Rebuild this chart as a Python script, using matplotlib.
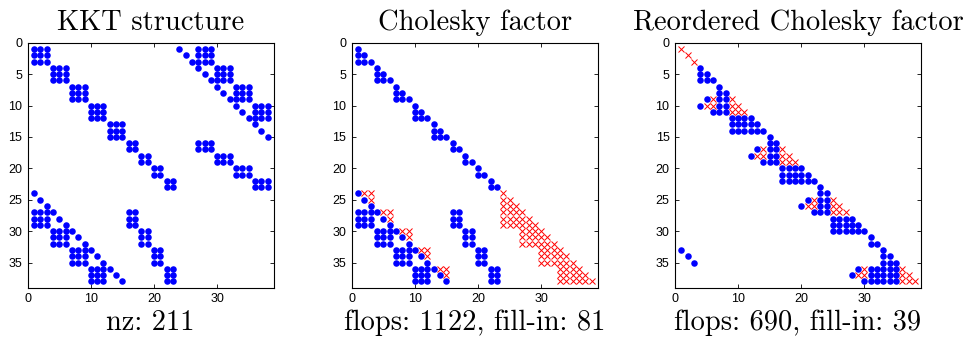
import numpy as np
import matplotlib
matplotlib.use("Agg")
import matplotlib.pyplot as plt

# block index sets of the KKT system (1-based)
state_idx = [[1, 2, 3], [4, 5, 6], [7, 8, 9], [10, 11, 12], [13, 14, 15]]
ctrl_idx = [[16, 17], [18, 19], [20, 21], [22, 23]]
con_idx = [[24, 25, 26], [27, 28, 29], [30, 31, 32], [33, 34, 35], [36, 37, 38]]

# ordering used for the third panel
perm = [24, 25, 26, 13, 14, 15, 22, 23, 37, 36, 38, 10, 11, 12, 20, 21,
        34, 33, 35, 7, 8, 9, 18, 19, 31, 30, 32, 4, 5, 6, 16, 17,
        1, 2, 3, 28, 27, 29]

titles = ["KKT structure", "Cholesky factor", "Reordered Cholesky factor"]
labels = ["nz: 211", "flops: 1122, fill-in: 81", "flops: 690, fill-in: 39"]

n = 38
K = np.zeros((n, n), dtype=bool)
def setblk(rows, cols):
    for r in rows:
        for c in cols:
            K[r-1, c-1] = True
            K[c-1, r-1] = True

for s in state_idx:
    setblk(s, s)
for u in ctrl_idx:
    setblk(u, u)
# initial condition rows only touch x1
for k in range(3):
    setblk([con_idx[0][k]], [state_idx[0][k]])
for t in range(1, 5):
    for k in range(3):
        setblk([con_idx[t][k]], [state_idx[t][k]])   # identity on next state
    setblk(con_idx[t], state_idx[t-1])                # A block
    setblk(con_idx[t], ctrl_idx[t-1])                 # B block


def symb_chol(A):
    L = np.tril(A).copy()
    np.fill_diagonal(L, True)
    m = A.shape[0]
    for j in range(m):
        rows = np.where(L[j+1:, j])[0] + j + 1
        for a in rows:
            L[a, rows[rows < a]] = True
    return L


L1 = symb_chol(K)
p = np.array(perm) - 1
Kp = K[np.ix_(p, p)]
L2 = symb_chol(Kp)

fig = plt.figure(figsize=(9.71, 3.37), dpi=100)
lefts = [27.7, 351.7, 675.0]
W, H = 971.0, 337.0

def style(ax):
    ax.set_xlim(0, 39)
    ax.set_ylim(39, 0)
    ax.set_xticks([0, 10, 20, 30])
    ax.set_yticks([0, 5, 10, 15, 20, 25, 30, 35])
    ax.tick_params(direction="in", top=True, right=True, length=3,
                   width=0.6, labelsize=9, pad=4)
    for lab in ax.get_xticklabels() + ax.get_yticklabels():
        lab.set_fontfamily("Liberation Sans")
    for sp in ax.spines.values():
        sp.set_linewidth(0.8)

axes = []
for i in range(3):
    ax = fig.add_axes([lefts[i] / W, 1 - 287.7 / H, 246.3 / W, 245.0 / H])
    style(ax)
    axes.append(ax)

dot = dict(ls="none", marker="o", ms=4.7, mfc="#0000ff", mec="none")
cross = dict(ls="none", marker="x", ms=4.6, mew=0.7, color="#ff0000")

r, c = np.nonzero(K)
axes[0].plot(c + 1, r + 1, **dot)

for ax, A, L in [(axes[1], K, L1), (axes[2], Kp, L2)]:
    orig = np.tril(A)
    fill = L & ~orig
    r, c = np.nonzero(orig)
    ax.plot(c + 1, r + 1, **dot)
    r, c = np.nonzero(fill)
    ax.plot(c + 1, r + 1, **cross)

for i in range(3):
    cx = (lefts[i] + 123.0) / W
    fig.text(cx, 1 - 30 / H, titles[i], ha="center", va="baseline",
             family="cmr10", fontsize=20.5)
    fig.text(cx, 1 - 330 / H, labels[i], ha="center", va="baseline",
             family="cmr10", fontsize=20.5)

fig.savefig("out.png", dpi=100)
